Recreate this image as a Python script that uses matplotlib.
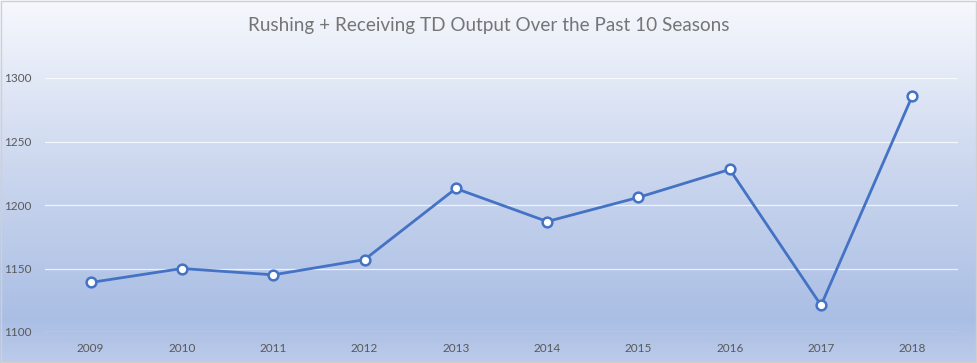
import numpy as np
import matplotlib.pyplot as plt
from matplotlib.colors import LinearSegmentedColormap

seasons = ["2009", "2010", "2011", "2012", "2013", "2014", "2015", "2016", "2017", "2018"]
td_output = [1139, 1150, 1145, 1157, 1213, 1187, 1206, 1228, 1121, 1286]
y_ticks = [1100, 1150, 1200, 1250, 1300]

plt.rcParams['font.family'] = ['Lato', 'DejaVu Sans']

fig = plt.figure(figsize=(9.77, 3.63), dpi=100)

# background gradient over whole figure
bg = fig.add_axes([0, 0, 1, 1], zorder=0)
cmap = LinearSegmentedColormap.from_list(
    "bg", [(0.0, "#bccbea"), (0.12, "#aabee4"), (0.55, "#cdd8ef"), (1.0, "#f6f8fd")])
bg.imshow(np.linspace(0, 1, 256).reshape(-1, 1), aspect="auto", cmap=cmap,
          origin="lower", extent=[0, 1, 0, 1])
bg.set_xlim(0, 1)
bg.set_ylim(0, 1)
bg.axis("off")
bg.add_patch(plt.Rectangle((0.001, 0.002), 0.998, 0.995, fill=False,
                           edgecolor="#d0d0d0", linewidth=1))

ax = fig.add_axes([45 / 977, 31 / 363, 913 / 977, 254 / 363], zorder=1)
ax.patch.set_alpha(0)
x = np.arange(len(seasons))
ax.plot(x, td_output, color="#4472c4", linewidth=2, marker="o", markersize=7,
        markerfacecolor="white", markeredgecolor="#4472c4", markeredgewidth=1.8,
        zorder=3)

ax.set_xlim(-0.5, len(seasons) - 0.5)
ax.set_ylim(1100, 1300)
ax.set_yticks(y_ticks)
ax.set_xticks(x)
ax.set_xticklabels(seasons)
ax.grid(axis="y", color="white", linewidth=0.9, alpha=0.75)
ax.set_axisbelow(True)
for s in ax.spines.values():
    s.set_visible(False)
ax.tick_params(axis="both", length=0, labelsize=8.5, colors="#595959")
ax.tick_params(axis="x", pad=8)
ax.tick_params(axis="y", pad=10)

fig.text(0.5, 0.93, "Rushing + Receiving TD Output Over the Past 10 Seasons",
         ha="center", va="center", fontsize=13.6, color="#757575")

fig.savefig("out.png", dpi=100)
